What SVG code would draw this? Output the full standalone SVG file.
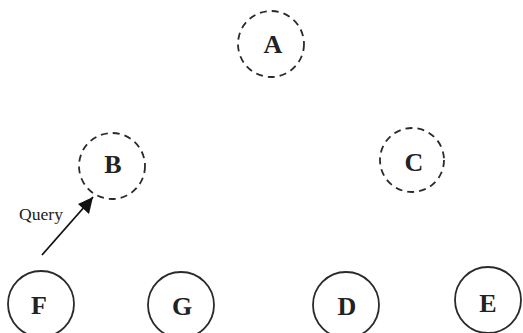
<svg xmlns="http://www.w3.org/2000/svg" width="523" height="333" viewBox="0 0 523 333">
<style>
.n{fill:none;stroke:#2a2a2a;stroke-width:1.8}
.d{stroke-dasharray:7 5}
.t{font-family:"Liberation Serif",serif;font-size:26px;font-weight:bold;fill:#222;text-anchor:middle}
.q{font-family:"Liberation Serif",serif;font-size:16px;fill:#222}
</style>
<defs>
<marker id="ah" viewBox="0 0 10 10" refX="10" refY="5" markerWidth="7" markerHeight="7" orient="auto" markerUnits="userSpaceOnUse">
<path d="M0,0 L10,5 L0,10 z" fill="#111"/>
</marker>
</defs>
<rect width="523" height="333" fill="#fff"/>
<g id="A"><circle class="n d" cx="271" cy="44" r="33"/><text class="t" x="273" y="53">A</text></g>
<g id="B"><circle class="n d" cx="112" cy="166" r="33"/><text class="t" x="113" y="173">B</text></g>
<g id="C"><circle class="n d" cx="412" cy="160" r="32"/><text class="t" x="414" y="171">C</text></g>
<g id="F"><circle class="n" cx="41" cy="304" r="33"/><text class="t" x="39" y="314">F</text></g>
<g id="G"><circle class="n" cx="181" cy="305" r="33"/><text class="t" x="182" y="315">G</text></g>
<g id="D"><circle class="n" cx="346" cy="305" r="33"/><text class="t" x="347" y="315">D</text></g>
<g id="E"><circle class="n" cx="488" cy="300" r="33"/><text class="t" x="488" y="312">E</text></g>
<g id="connectors">
<line x1="42" y1="255" x2="93" y2="197" stroke="#111" stroke-width="1.8"/>
<path d="M93,197 L89,214 L78,204 z" fill="#111"/>
<text class="q" x="19" y="220" textLength="44" lengthAdjust="spacingAndGlyphs">Query</text>
</g>
</svg>
